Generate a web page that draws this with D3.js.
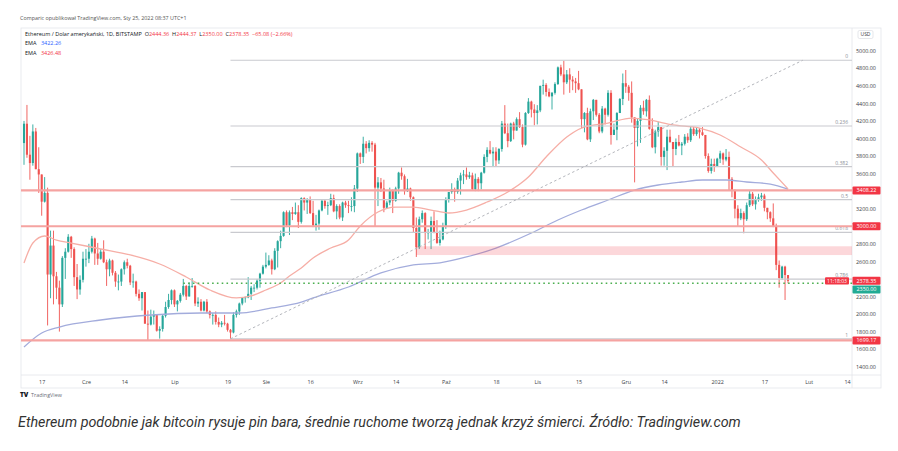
<!DOCTYPE html>
<html><head><meta charset="utf-8">
<script src="https://cdn.jsdelivr.net/npm/d3@7"></script>
<style>body{margin:0;background:#fff;} svg{display:block;}</style>
</head><body>
<svg id="c" width="898" height="451"></svg>
<script>
// ---------- DATA ----------
const startDay = "2021-05-11"; // first candle, one candle per day
const open = [3948,4168,3815,3720,4080,3650,3590,3280,3380,2450, 2780,2430,2300,2110,2640,2710,2880,2740,2420,2280, 2390,2630,2630,2710,2860,2690,2630,2710,2590,2510, 2610,2470,2370,2370,2510,2590,2550,2360,2370,2230, 2180,2250,1890,1880,1970,1990,1810,1830,1980,2080, 2160,2270,2110,2150,2220,2320,2200,2320,2320,2120, 2140,2040,2140,2030,1990,1990,1910,1880,1900,1890, 1820,1790,1990,2030,2120,2190,2190,2230,2300,2300, 2380,2460,2540,2560,2610,2510,2720,2830,2890,3160, 3010,3160,3140,3160,3050,3320,3270,3310,3150,3010, 3030,3180,3290,3230,3240,3320,3170,3230,3100,3270, 3240,3230,3230,3430,3830,3790,3940,3890,3950,3930, 3440,3500,3430,3210,3270,3410,3290,3430,3610,3570, 3400,3430,3330,2980,2760,3080,3150,2930,2930,3060, 2930,2810,2850,3000,3310,3390,3420,3390,3520,3580, 3590,3560,3580,3420,3540,3490,3610,3790,3870,3830, 3850,3750,3880,4170,4060,3970,4170,4090,4220,4130, 3930,4290,4420,4330,4290,4320,4600,4610,4530,4480, 4520,4620,4810,4730,4640,4730,4670,4650,4630,4560, 4220,4290,3990,4310,4440,4270,4080,4340,4270,4520, 4040,4100,4290,4450,4630,4590,4520,4240,4120,4200, 4350,4310,4440,4110,3900,4080,4130,3790,3860,4020, 3960,3880,3960,3920,3940,4020,3980,4110,4050,4100, 4070,4040,3800,3630,3710,3680,3770,3830,3760,3790, 3540,3410,3200,3090,3150,3080,3240,3370,3250,3310, 3330,3350,3210,3160,3090,3000,2560,2410,2540,2444.36];
const high = [4200,4382,4030,4160,4120,3900,3590,3560,3440,2950, 2950,2480,2380,2660,2750,2910,2890,2760,2570,2440, 2710,2740,2800,2890,2870,2810,2740,2840,2620,2630, 2620,2490,2450,2520,2610,2630,2560,2460,2380,2280, 2250,2250,2040,2050,2040,2000,1860,1990,2140,2230, 2280,2280,2160,2240,2400,2330,2360,2410,2330,2190, 2170,2150,2170,2040,2010,2030,1960,1920,1990,1900, 1830,2020,2050,2130,2190,2200,2420,2320,2340,2400, 2470,2560,2700,2670,2630,2750,2840,2950,3170,3180, 3180,3220,3270,3240,3330,3330,3320,3340,3290,3130, 3190,3300,3300,3280,3370,3360,3250,3250,3280,3290, 3290,3330,3470,3840,3840,4020,3970,3980,3970,3950, 3560,3550,3530,3290,3440,3420,3450,3620,3670,3590, 3540,3440,3340,3100,3110,3180,3160,2970,3110,3170, 3070,2950,3040,3330,3390,3490,3440,3550,3610,3640, 3670,3620,3610,3600,3560,3620,3820,3900,3970,3900, 3900,3890,4200,4380,4170,4180,4190,4240,4300,4160, 4300,4460,4430,4390,4380,4600,4670,4630,4570,4530, 4640,4820,4840,4885,4780,4800,4710,4690,4770,4560, 4300,4350,4340,4450,4440,4290,4370,4350,4550,4550, 4170,4300,4460,4740,4780,4610,4650,4240,4230,4380, 4430,4450,4490,4230,4100,4190,4130,3900,4100,4100, 3960,4000,4040,3960,4050,4060,4140,4130,4130,4120, 4130,4040,3830,3770,3770,3780,3860,3840,3880,3850, 3560,3420,3240,3200,3170,3270,3410,3390,3340,3370, 3380,3370,3210,3170,3260,3030,2610,2550,2550,2444.37];
const low = [3700,3780,3530,3690,3650,3380,3120,3270,1870,2180, 2110,2170,1800,2080,2400,2700,2640,2320,2170,2220, 2360,2540,2580,2690,2560,2560,2620,2580,2320,2430, 2440,2310,2270,2320,2450,2520,2330,2300,2200,2150, 2040,1890,1700,1870,1880,1800,1720,1800,1960,2060, 2110,2080,2030,2130,2200,2160,2200,2300,2090,2080, 2030,2030,2010,1950,1880,1880,1850,1850,1870,1800, 1718,1780,1960,1990,2100,2130,2180,2160,2250,2280, 2300,2450,2520,2550,2450,2500,2530,2750,2880,2990, 2900,3070,3130,2980,3030,3180,3140,3140,2990,2950, 2960,3170,3200,3130,3230,3160,3080,3080,3060,3210, 3150,3170,3160,3390,3710,3720,3830,3850,3850,3000, 3230,3390,3160,3200,3240,3150,3280,3370,3530,3360, 3390,3290,2930,2650,2740,3040,2740,2850,2740,2920, 2800,2780,2840,2970,3270,3370,3280,3370,3360,3480, 3530,3540,3410,3400,3400,3420,3600,3730,3820,3680, 3680,3710,3850,4050,3900,3960,3990,4090,4120,3900, 3920,4280,4240,4150,4160,4300,4500,4480,4470,4330, 4500,4610,4710,4500,4620,4520,4550,4520,4550,4120, 4070,3980,3960,4210,4250,4060,4060,4160,4250,3930, 4040,3980,4290,4380,4520,4430,4180,3500,3910,3950, 4270,4250,4100,3890,3830,4020,3690,3690,3640,3950, 3680,3810,3910,3810,3920,3950,3960,4030,4030,4000, 4030,3770,3610,3600,3620,3680,3720,3700,3740,3410, 3330,3090,3000,3070,2920,3060,3220,3230,3190,3280, 3290,3170,3080,3050,2990,2500,2300,2390,2160,2350];
const close = [4168,3815,3720,4080,3650,3590,3280,3380,2450,2780, 2430,2300,2110,2640,2710,2880,2740,2420,2280,2390, 2630,2630,2710,2860,2690,2630,2710,2590,2510,2610, 2470,2370,2370,2510,2590,2550,2360,2370,2230,2180, 2250,1890,1880,1970,1990,1810,1830,1980,2080,2160, 2270,2110,2150,2220,2320,2200,2320,2320,2120,2140, 2040,2140,2030,1990,1990,1910,1880,1900,1890,1820, 1790,1990,2030,2120,2190,2190,2230,2300,2300,2380, 2460,2540,2560,2610,2510,2720,2830,2890,3160,3010, 3160,3140,3160,3050,3320,3270,3310,3150,3010,3030, 3180,3290,3230,3240,3320,3170,3230,3100,3270,3240, 3230,3230,3430,3830,3790,3940,3890,3950,3930,3440, 3500,3430,3210,3270,3410,3290,3430,3610,3570,3400, 3430,3330,2980,2760,3080,3150,2930,2930,3060,2930, 2810,2850,3000,3310,3390,3420,3390,3520,3580,3590, 3560,3580,3420,3540,3490,3610,3790,3870,3830,3850, 3750,3880,4170,4060,3970,4170,4090,4220,4130,3930, 4290,4420,4330,4290,4320,4600,4610,4530,4480,4520, 4620,4810,4730,4640,4730,4670,4650,4630,4560,4220, 4290,3990,4310,4440,4270,4080,4340,4270,4520,4040, 4100,4290,4450,4630,4590,4520,4240,4120,4200,4350, 4310,4440,4110,3900,4080,4130,3790,3860,4020,3960, 3880,3960,3920,3940,4020,3980,4110,4050,4100,4070, 4040,3800,3630,3710,3680,3770,3830,3760,3790,3540, 3410,3200,3090,3150,3080,3240,3370,3250,3310,3330, 3350,3210,3160,3090,3000,2560,2410,2540,2444.36,2378.35];

// EMA lines, sampled (day offset from startDay -> value)
const ema50Day = [0,3,7,11,16,26,36,46,55,63,72,77,82,87,90,94,98,104,110,114,120,126,132,138,144,150,157,164,171,177,184,189,198,206,212,220,229,236,243,250,254,259];
const ema50 = [2582,2809,2889,2843,2809,2741,2673,2570,2422,2274,2183,2206,2274,2354,2433,2525,2638,2752,2843,3003,3162,3219,3219,3185,3151,3185,3276,3390,3561,3789,4017,4119,4176,4233,4211,4154,4119,4040,3903,3755,3607,3426.48];
const ema200Day = [0,6,12,26,43,60,73,84,94,98,110,121,132,141,150,160,172,181,189,198,207,215,223,230,238,245,253,259];
const ema200 = [1625,1784,1852,1932,1989,2012,2012,2069,2137,2183,2308,2468,2559,2582,2650,2752,2923,3071,3185,3299,3413,3470,3504,3527,3527,3504,3481,3422.26];

const priceTicks = [1400,1600,1800,2000,2200,2400,2600,2800,3000,3200,3400,3600,3800,4000,4200,4400,4600,4800,5000];
const timeTickDates = ["2021-05-17","2021-06-01","2021-06-14","2021-07-01","2021-07-19","2021-08-01","2021-08-16","2021-09-01","2021-09-14","2021-10-01","2021-10-18","2021-11-01","2021-11-15","2021-12-01","2021-12-14","2022-01-01","2022-01-17","2022-02-01","2022-02-14"];
const timeTickLabels = ["17","Cze","14","Lip","19","Sie","16","Wrz","14","Paź","18","Lis","15","Gru","14","2022","17","Lut","14"];

const redLevels = [3408.22, 3000, 1699.17];
const fibRatios = [0, 0.236, 0.382, 0.5, 0.618, 0.786, 1];
const fibLabels = ["0","0.236","0.382","0.5","0.618","0.786","1"];
const fibHighPrice = 4891, fibLowPrice = 1718;
const fibStartDay = "2021-07-20", fibEndDay = "2022-01-30";
const zoneTop = 2772, zoneBottom = 2672, zoneStartDay = "2021-09-21";
const greenLevel = 2350, greenStartDay = "2021-07-04";
const lastPrice = 2378.35;

// ---------- LAYOUT ----------
const L = 21, R = 852, T = 28, B = 375, AX = 881, BOT = 388;
const svg = d3.select("#c");
const F = "'Open Sans', 'Noto Sans', sans-serif";
const up = "#26a69a", dn = "#ef5350";

const parse = s => new Date(s + "T00:00:00Z");
const start = parse(startDay);
const dayAt = i => d3.utcDay.offset(start, i);

const x = d3.scaleUtc().domain([start, parse("2022-01-25")]).range([24, 788]);
const y = d3.scaleLinear().domain([1400, 5000]).range([366.7, 50.7]);

// header
svg.append("text").attr("x", 20).attr("y", 20).attr("font-family", F).attr("font-size", 5.4)
  .attr("fill", "#555").text("Comparic opublikował TradingView.com, Sty 25, 2022 08:37 UTC+1");

// frame
svg.append("rect").attr("x", L).attr("y", T).attr("width", AX - L).attr("height", BOT - T)
  .attr("fill", "#fff").attr("stroke", "#e3e5ea").attr("stroke-width", 0.8);
svg.append("line").attr("x1", R).attr("x2", R).attr("y1", T).attr("y2", BOT).attr("stroke", "#e3e5ea").attr("stroke-width", 0.8);
svg.append("line").attr("x1", L).attr("x2", AX).attr("y1", B).attr("y2", B).attr("stroke", "#e3e5ea").attr("stroke-width", 0.8);

svg.append("clipPath").attr("id", "pc").append("rect").attr("x", L).attr("y", T).attr("width", R - L).attr("height", B - T);
const plot = svg.append("g").attr("clip-path", "url(#pc)");

// candles
const idx = d3.range(close.length);
const cg = plot.append("g");
cg.selectAll("line.w").data(idx).join("line")
  .attr("x1", i => x(dayAt(i))).attr("x2", i => x(dayAt(i)))
  .attr("y1", i => y(high[i])).attr("y2", i => y(low[i]))
  .attr("stroke", i => close[i] >= open[i] ? up : dn).attr("stroke-width", 0.9);
cg.selectAll("rect.b").data(idx).join("rect")
  .attr("x", i => x(dayAt(i)) - 1.05).attr("width", 2.1)
  .attr("y", i => y(Math.max(open[i], close[i])))
  .attr("height", i => Math.max(0.8, Math.abs(y(open[i]) - y(close[i]))))
  .attr("fill", i => close[i] >= open[i] ? up : dn);

// EMAs
const line = d3.line().curve(d3.curveMonotoneX);
plot.append("path").attr("d", line(ema200Day.map((d, k) => [x(dayAt(d)), y(ema200[k])])))
  .attr("fill", "none").attr("stroke", "#a3acdc").attr("stroke-width", 1.3);
plot.append("path").attr("d", line(ema50Day.map((d, k) => [x(dayAt(d)), y(ema50[k])])))
  .attr("fill", "none").attr("stroke", "#f6aea6").attr("stroke-width", 1.3);

// zone
plot.append("rect").attr("x", x(parse(zoneStartDay))).attr("width", R - x(parse(zoneStartDay)))
  .attr("y", y(zoneTop)).attr("height", y(zoneBottom) - y(zoneTop))
  .attr("fill", "rgba(242,54,69,0.2)");

// fib
const fx0 = x(parse(fibStartDay));
const fibPrice = r => fibHighPrice - r * (fibHighPrice - fibLowPrice);
plot.selectAll("line.fib").data(fibRatios).join("line")
  .attr("x1", fx0).attr("x2", R).attr("y1", r => y(fibPrice(r))).attr("y2", r => y(fibPrice(r)))
  .attr("stroke", "#c9cacf").attr("stroke-width", 1.2);
plot.selectAll("text.fib").data(fibRatios).join("text")
  .attr("x", 848).attr("y", r => y(fibPrice(r)) - 2).attr("text-anchor", "end")
  .attr("font-family", F).attr("font-size", 5).attr("fill", "#8a8d96").text((r, k) => fibLabels[k]);
plot.append("line").attr("x1", fx0).attr("y1", y(fibLowPrice))
  .attr("x2", x(parse(fibEndDay))).attr("y2", y(fibHighPrice))
  .attr("stroke", "#b4b6bc").attr("stroke-width", 1).attr("stroke-dasharray", "2.5,2.5");

// red horizontal lines
plot.selectAll("line.red").data(redLevels).join("line")
  .attr("x1", L).attr("x2", R).attr("y1", d => y(d)).attr("y2", d => y(d))
  .attr("stroke", "#f5a3a1").attr("stroke-width", 2.2);

// green dotted line
plot.append("line").attr("x1", x(parse(greenStartDay))).attr("x2", R)
  .attr("y1", y(greenLevel)).attr("y2", y(greenLevel))
  .attr("stroke", "#4caf50").attr("stroke-width", 1.6).attr("stroke-dasharray", "1.6,3.2");

// countdown label
plot.append("rect").attr("x", 825).attr("y", y(lastPrice) - 3.6).attr("width", 24).attr("height", 7.2).attr("rx", 1).attr("fill", "#f23645");
plot.append("text").attr("x", 837).attr("y", y(lastPrice) + 1.8).attr("text-anchor", "middle")
  .attr("font-family", F).attr("font-size", 5).attr("fill", "#fff").text("11:18:03");

// price axis
const pax = svg.append("g").attr("transform", `translate(${R},0)`)
  .call(d3.axisRight(y).tickValues(priceTicks).tickSize(0).tickPadding(4).tickFormat(d3.format(".2f")));
pax.select(".domain").remove();
pax.selectAll("text").attr("font-family", F).attr("font-size", 5.4).attr("fill", "#3a3d45");

// USD badge
svg.append("rect").attr("x", 858).attr("y", 30.5).attr("width", 15).attr("height", 8).attr("rx", 1.5)
  .attr("fill", "#fff").attr("stroke", "#d5d7dd").attr("stroke-width", 0.6);
svg.append("text").attr("x", 865.5).attr("y", 36.3).attr("text-anchor", "middle").attr("font-family", F)
  .attr("font-size", 5).attr("fill", "#3a3d45").text("USD");

// price badges
const badges = [
  {v: 3408.22, c: "#f23645"}, {v: 3000, c: "#f23645"},
  {v: lastPrice, c: "#f23645"}, {v: greenLevel, c: "#22ab94", push: true},
  {v: 1699.17, c: "#f23645"}];
let prevY = -100;
badges.forEach(b => {
  let by = y(b.v);
  if (b.push) by = Math.max(by, prevY + 8.6);
  prevY = by;
  svg.append("rect").attr("x", R + 0.5).attr("y", by - 4).attr("width", 28).attr("height", 8).attr("rx", 1).attr("fill", b.c);
  svg.append("text").attr("x", R + 14.5).attr("y", by + 1.9).attr("text-anchor", "middle").attr("font-family", F)
    .attr("font-size", 5.4).attr("fill", "#fff").text(d3.format(".2f")(b.v));
});

// time axis
const tax = svg.append("g").attr("transform", `translate(0,${B})`)
  .call(d3.axisBottom(x).tickValues(timeTickDates.map(parse)).tickSize(0).tickPadding(5)
    .tickFormat((d, k) => timeTickLabels[k]));
tax.select(".domain").remove();
tax.selectAll("text").attr("font-family", F).attr("font-size", 5.4).attr("fill", "#3a3d45");

// legend
const lg = svg.append("g").attr("font-family", F).attr("font-size", 5.5);
const t1 = lg.append("text").attr("x", 25).attr("y", 35.5).attr("fill", "#131722");
const red = "#f23645";
[["Ethereum / Dolar amerykański, 1D, BITSTAMP  O", "#131722"], ["2444.36", red], ["  H", "#131722"], ["2444.37", red],
 ["  L", "#131722"], ["2350.00", red], ["  C", "#131722"], ["2378.35", red], ["  −65.08 (−2.66%)", red]]
  .forEach(([s, c]) => t1.append("tspan").attr("fill", c).text(s));
lg.append("text").attr("x", 25).attr("y", 45).attr("fill", "#131722").text("EMA ")
  .append("tspan").attr("dx", 3).attr("fill", "#2962ff").text("3422.26");
lg.append("text").attr("x", 25).attr("y", 54.5).attr("fill", "#131722").text("EMA ")
  .append("tspan").attr("dx", 3).attr("fill", red).text("3426.48");
svg.selectAll("text").attr("style", "white-space:pre");

// TradingView logo
svg.append("text").attr("x", 20).attr("y", 397).attr("font-family", F).attr("font-size", 6.5).attr("font-weight", 800)
  .attr("fill", "#131722").text("TV");
svg.append("text").attr("x", 31).attr("y", 397).attr("font-family", F).attr("font-size", 5.4).attr("fill", "#6a6d78").text("TradingView");

// caption
svg.append("text").attr("x", 18).attr("y", 426.5).attr("font-family", "Roboto, 'Open Sans', sans-serif")
  .attr("font-style", "italic").attr("font-size", 14.3).attr("fill", "#333")
  .text("Ethereum podobnie jak bitcoin rysuje pin bara, średnie ruchome tworzą jednak krzyż śmierci. Źródło: Tradingview.com");
</script>
</body></html>
